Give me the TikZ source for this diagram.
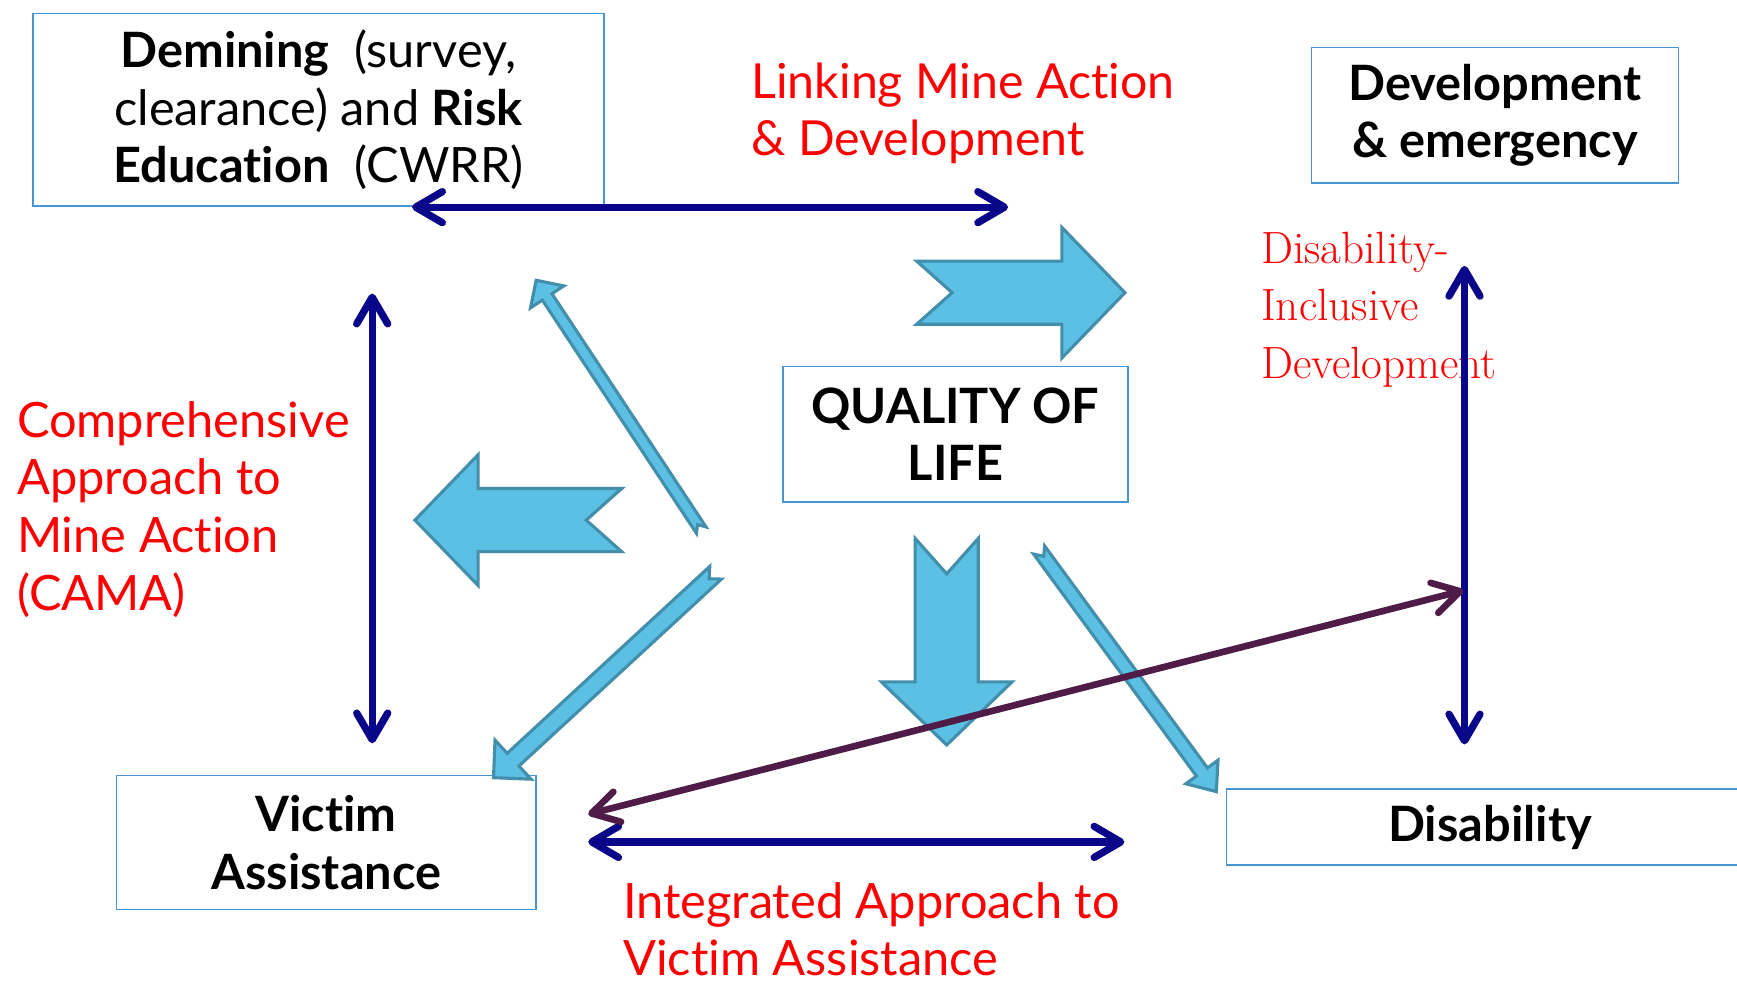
\documentclass[tikz,border=0pt]{standalone}
\usepackage{fontspec}
\newfontfamily\lato[Ligatures={NoCommon,NoRequired,NoContextual}]{Lato}
\usetikzlibrary{arrows.meta,calc}
\definecolor{navy}{RGB}{10,6,138}
\definecolor{plum}{RGB}{78,28,70}
\definecolor{boxblue}{RGB}{70,150,215}
\definecolor{arrfill}{RGB}{91,192,228}
\definecolor{arrline}{RGB}{66,142,171}
\definecolor{labred}{RGB}{255,0,0}
\tikzset{
  box/.style={draw=boxblue, line width=0.7pt, inner sep=0pt, align=center, text=black,
    font=\lato\fontsize{22}{26}\selectfont},
  redlab/.style={text=labred, inner sep=0pt, align=left, anchor=north west,
    font=\lato\fontsize{22}{26}\selectfont},
  navyarrow/.style={draw=navy, line width=3.3pt,
    {Straight Barb[length=12pt,width=14pt,round]}-{Straight Barb[length=12pt,width=14pt,round]}},
  plumarrow/.style={draw=plum, line width=3pt,
    {Straight Barb[length=12pt,width=14pt,round]}-{Straight Barb[length=12pt,width=14pt,round]}},
  blockstyle/.style={fill=arrfill, draw=arrline, line width=1.4pt, line join=miter}
}
% #1 tail, #2 tip, #3 shaft half-width, #4 head half-width, #5 head length, #6 notch depth
\newcommand\blockarr[6]{%
  \coordinate (bA) at (#1);
  \coordinate (bB) at (#2);
  \coordinate (bH) at ($(bB)!#5!(bA)$);
  \filldraw[blockstyle] ($(bA)!#3!90:(bB)$) -- ($(bH)!#3!90:(bB)$) -- ($(bH)!#4!90:(bB)$)
    -- (bB) -- ($(bH)!#4!-90:(bB)$) -- ($(bH)!#3!-90:(bB)$) -- ($(bA)!#3!-90:(bB)$)
    -- ($(bA)!#6!(bB)$) -- cycle;
}
\begin{document}
\begin{tikzpicture}[x=0.5pt,y=-0.5pt]
\useasboundingbox (0,0) rectangle (1568,885);

% boxes
\node[box, minimum width=257.5pt, minimum height=87pt] (demin) at (287.5,99)
  {\textbf{Demining}\ \ (survey,\\clearance) and \textbf{Risk}\\\textbf{Education}\ \ (CWRR)};
\node[box, minimum width=165.5pt, minimum height=61pt, font=\lato\bfseries\fontsize{22}{26}\selectfont] (dev) at (1349.5,104)
  {Development\\\& emergency};
\node[box, minimum width=155.5pt, minimum height=61pt, font=\lato\bfseries\fontsize{22}{26}\selectfont] (qol) at (862.5,392)
  {QUALITY OF\\LIFE};
\node[box, minimum width=189.5pt, minimum height=60.5pt, font=\lato\bfseries\fontsize{22}{26}\selectfont] (va) at (294.5,760.5)
  {Victim\\Assistance};
\node[box, minimum width=238pt, minimum height=34.5pt, font=\lato\bfseries\fontsize{22}{26}\selectfont] (dis) at (1345,746.5)
  {Disability};

% red labels
\node[redlab, font=\lato\fontsize{21.8}{26}\selectfont] (link) at (678,56) {Linking Mine Action\\\& Development};
\node[redlab] (cama) at (15,362) {Comprehensive\\Approach to\\Mine Action\\(CAMA)};
\node[redlab] (iava) at (562,796) {Integrated Approach to\\Victim Assistance};
\node[redlab, font=\fontsize{20.4}{26}\selectfont] (did) at (1138,209) {Disability-\\Inclusive\\Development};

% big block arrows
\blockarr{827.5,264.2}{1015.5,264.2}{14.25pt}{29.5pt}{28.5pt}{16pt}
\blockarr{561.2,469.5}{374.6,469.5}{14.25pt}{29.5pt}{28.5pt}{16pt}
\blockarr{854.6,486}{854.6,672.5}{14.25pt}{29.5pt}{28.5pt}{16pt}
% thin block arrows
\blockarr{633,478.5}{484,253}{2.6pt}{9pt}{9pt}{3pt}
\blockarr{646,517}{445.5,702}{3.9pt}{12pt}{12pt}{4pt}
\blockarr{938,496.5}{1098,714.6}{3.1pt}{9pt}{11pt}{3.5pt}

% connectors
\coordinate (t1) at (372,187);
\coordinate (t2) at (910,187);
\coordinate (l1) at (336,265);
\coordinate (l2) at (336,671);
\coordinate (r1) at (1322,240);
\coordinate (r2) at (1322,672);
\coordinate (b1) at (531,760);
\coordinate (b2) at (1015,760);
\coordinate (p1) at (531,735);
\coordinate (p2) at (1321,533);
\draw[navyarrow] (t1) -- (t2);
\draw[navyarrow] (l1) -- (l2);
\draw[navyarrow] (r1) -- (r2);
\draw[navyarrow] (b1) -- (b2);
\draw[plumarrow] (p1) -- (p2);
\end{tikzpicture}
\end{document}
